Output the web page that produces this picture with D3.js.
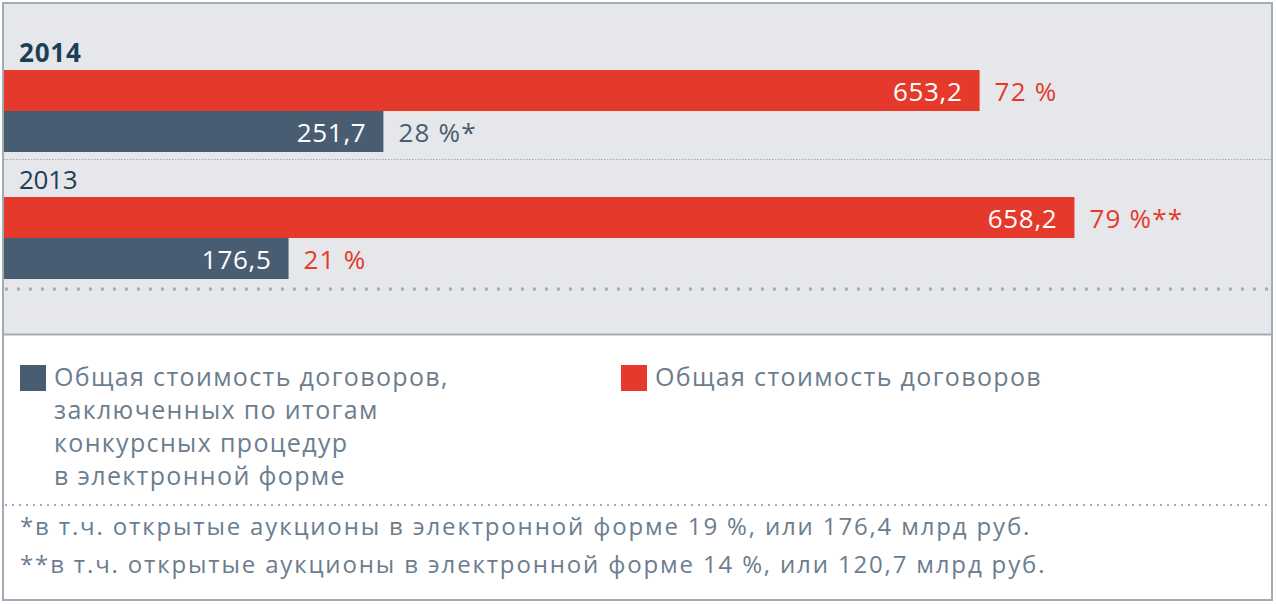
<!DOCTYPE html>
<html>
<head>
<meta charset="utf-8">
<script src="https://cdn.jsdelivr.net/npm/d3@7"></script>
<style>
  body { margin: 0; background: #fff; }
  svg { display: block; font-family: "Open Sans", sans-serif; }
</style>
</head>
<body>
<div id="chart"></div>
<script>
// data
const years = ["2014", "2013"];
const seriesKeys = ["total", "electronic"];
const totalValues = [653.2, 658.2];          // млрд руб.
const totalShares = [72, 79];                // %
const totalMarks = ["", "**"];
const electronicValues = [251.7, 176.5];
const electronicShares = [28, 21];
const electronicMarks = ["*", ""];
const legendElectronic = ["Общая стоимость договоров,", "заключенных по итогам", "конкурсных процедур", "в электронной форме"];
const legendTotal = ["Общая стоимость договоров"];
const footnotes = [
  "*в т.ч. открытые аукционы в электронной форме 19 %, или 176,4 млрд руб.",
  "**в т.ч. открытые аукционы в электронной форме 14 %, или 120,7 млрд руб."
];

const width = 1276,
    height = 604;

const red = "#e5392b",
    navy = "#485d72",
    panel = "#e6e7eb",
    rule = "#a3abb6",
    yearColor = "#1d3f55",
    noteColor = "#6b7d8e";

// the 21 % label is printed in red in the original
const pctColor = { total: { "2014": red, "2013": red }, electronic: { "2014": navy, "2013": red } };

const rows = years.map((y, i) => ({
  year: y,
  bars: [
    { key: "total", value: totalValues[i], share: totalShares[i], mark: totalMarks[i] },
    { key: "electronic", value: electronicValues[i], share: electronicShares[i], mark: electronicMarks[i] }
  ]
}));

const ru = d3.formatLocale({ decimal: ",", thousands: " ", grouping: [3], currency: ["", " руб."] });
const fmt = ru.format(".1f");

const svg = d3.select("#chart")
  .append("svg")
  .attr("width", width)
  .attr("height", height)
  .attr("viewBox", [0, 0, width, height]);

// grey panel behind the bars
svg.append("rect")
  .attr("x", 4).attr("y", 4)
  .attr("width", 1267).attr("height", 330)
  .attr("fill", panel);

// bars are drawn to the share, not the value
const x = d3.scaleLinear()
  .domain([0, 100])
  .range([4, 1359]);

const yGroup = d3.scaleBand()
  .domain(years)
  .range([32, 286]);

const yBar = d3.scaleBand()
  .domain(seriesKeys)
  .range([38, 120]);

const colour = d3.scaleOrdinal()
  .domain(seriesKeys)
  .range([red, navy]);

const g = svg.selectAll("g.year")
  .data(rows)
  .join("g")
  .attr("class", "year")
  .attr("transform", d => `translate(0,${yGroup(d.year)})`);

g.append("text")                  // year caption
  .attr("x", 19)
  .attr("y", 30)
  .attr("fill", yearColor)
  .attr("font-size", 26)
  .attr("letter-spacing", (d, i) => i === 0 ? 0.8 : -0.3)
  .attr("font-weight", (d, i) => i === 0 ? 700 : 400)
  .text(d => d.year);

const bar = g.selectAll("g.bar")
  .data(d => d.bars.map(b => ({ ...b, year: d.year })))
  .join("g")
  .attr("class", "bar")
  .attr("transform", d => `translate(0,${yBar(d.key)})`);

bar.append("rect")
  .attr("x", x(0))
  .attr("width", d => x(d.share) - x(0))
  .attr("height", yBar.bandwidth())
  .attr("fill", d => colour(d.key));

bar.append("text")                // value inside bar
  .attr("x", d => x(d.share) - 17)
  .attr("y", yBar.bandwidth() / 2 + 10)
  .attr("text-anchor", "end")
  .attr("fill", "#fff")
  .attr("font-size", 26)
  .attr("letter-spacing", 0.7)
  .text(d => fmt(d.value));

bar.append("text")                // share after bar
  .attr("x", d => x(d.share) + 15)
  .attr("y", yBar.bandwidth() / 2 + 10)
  .attr("fill", d => pctColor[d.key][d.year])
  .attr("font-size", 26)
  .attr("letter-spacing", 1.2)
  .text(d => `${d.share} %${d.mark}`);

// separators
svg.append("line")
  .attr("x1", 4).attr("x2", 1271)
  .attr("y1", 159.5).attr("y2", 159.5)
  .attr("stroke", rule).attr("stroke-width", 1)
  .attr("stroke-dasharray", "1.5 1.5");

svg.append("line")
  .attr("x1", 5).attr("x2", 1271)
  .attr("y1", 289).attr("y2", 289)
  .attr("stroke", rule).attr("stroke-width", 3)
  .attr("stroke-dasharray", "3 9");

svg.append("line")
  .attr("x1", 4).attr("x2", 1271)
  .attr("y1", 334.5).attr("y2", 334.5)
  .attr("stroke", rule).attr("stroke-width", 2);

svg.append("line")
  .attr("x1", 5).attr("x2", 1271)
  .attr("y1", 505).attr("y2", 505)
  .attr("stroke", rule).attr("stroke-width", 2)
  .attr("stroke-dasharray", "2 5");

// legend
const legend = svg.append("g")
  .attr("font-size", 25)
  .attr("letter-spacing", 1.35)
  .attr("fill", noteColor);

const legendItems = [
  { key: "electronic", x: 20, lines: legendElectronic },
  { key: "total", x: 621, lines: legendTotal }
];

legendItems.forEach(item => {
  legend.append("rect")
    .attr("x", item.x).attr("y", 365)
    .attr("width", 26).attr("height", 26)
    .attr("fill", colour(item.key));
  legend.append("text")
    .selectAll("tspan")
    .data(item.lines)
    .join("tspan")
    .attr("x", item.x + 34)
    .attr("y", (d, i) => 386 + i * 33)
    .text(d => d);
});

// footnotes
svg.append("g")
  .attr("font-size", 24)
  .attr("letter-spacing", 1.85)
  .attr("fill", noteColor)
  .selectAll("text")
  .data(footnotes)
  .join("text")
  .attr("x", 20)
  .attr("y", (d, i) => 535 + i * 38)
  .text(d => d);

// outer frame
svg.append("rect")
  .attr("x", 3).attr("y", 3)
  .attr("width", 1269).attr("height", 597)
  .attr("fill", "none")
  .attr("stroke", rule)
  .attr("stroke-width", 2);
</script>
</body>
</html>
